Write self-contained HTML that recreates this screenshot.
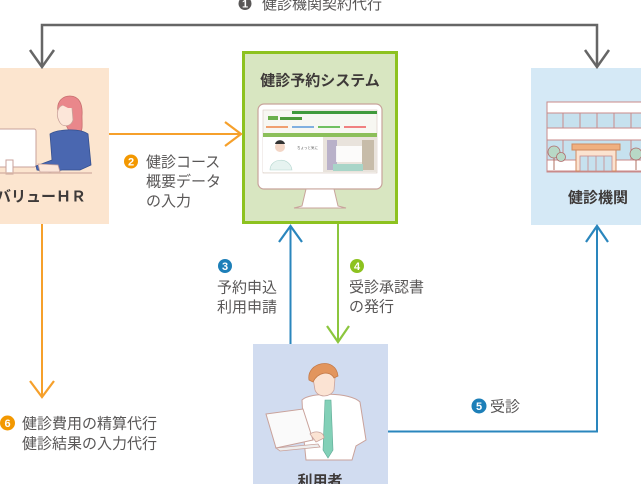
<!DOCTYPE html>
<html><head><meta charset="utf-8"><style>
html,body{margin:0;padding:0;background:#fff;}
svg{display:block;}
text{font-family:"Liberation Sans","Noto Sans CJK JP",sans-serif;}
.lbl{font-size:15px;fill:#595757;}
.bold{font-size:15px;font-weight:bold;fill:#3e3a39;}
.num{font-size:11px;font-weight:bold;fill:#fff;}
</style></head><body>
<svg width="641" height="484" viewBox="0 0 641 484" xmlns="http://www.w3.org/2000/svg">
<!-- boxes -->
<rect x="0" y="68" width="109" height="156" fill="#fce5cf"/>
<rect x="243.5" y="52.5" width="153" height="170" fill="#d8e6c1" stroke="#8dc21f" stroke-width="3"/>
<rect x="531" y="68" width="110" height="157" fill="#d5e9f6"/>
<rect x="253" y="344" width="135" height="140" fill="#d1dcf0"/>

<!-- gray connector -->
<polyline points="42,67 42,25 597,25 597,67" fill="none" stroke="#666" stroke-width="2.5"/>
<polyline points="30,50 42,67 54,50" fill="none" stroke="#666" stroke-width="2.5"/>
<polyline points="585,50 597,67 609,50" fill="none" stroke="#666" stroke-width="2.5"/>

<!-- orange connectors -->
<line x1="109" y1="134" x2="241" y2="134" stroke="#f6a02b" stroke-width="2"/>
<polyline points="225,122 241,134 225,146" fill="none" stroke="#f6a02b" stroke-width="2.2"/>
<line x1="42" y1="224" x2="42" y2="397" stroke="#f6a02b" stroke-width="2"/>
<polyline points="30,381 42,397 54,381" fill="none" stroke="#f6a02b" stroke-width="2.2"/>

<!-- blue up (3) -->
<line x1="290.5" y1="344" x2="290.5" y2="226" stroke="#2a86bd" stroke-width="2"/>
<polyline points="279,242 290.5,226 302,242" fill="none" stroke="#2a86bd" stroke-width="2.2"/>
<!-- green down (4) -->
<line x1="338" y1="224" x2="338" y2="342" stroke="#8cc63e" stroke-width="2"/>
<polyline points="327,326 338,342 349,326" fill="none" stroke="#8cc63e" stroke-width="2.2"/>
<!-- blue route (5) -->
<polyline points="388,431.5 597,431.5 597,226" fill="none" stroke="#2a86bd" stroke-width="2"/>
<polyline points="586,242 597,226 608,242" fill="none" stroke="#2a86bd" stroke-width="2.2"/>

<!-- labels -->
<circle cx="245" cy="3.5" r="6.5" fill="#595757"/>
<text class="num" x="245" y="7.5" text-anchor="middle">1</text>
<text class="lbl" x="262" y="9">健診機関契約代行</text>

<circle cx="131" cy="161.5" r="7" fill="#f39800"/>
<text class="num" x="131" y="165.5" text-anchor="middle">2</text>
<text class="lbl" x="146" y="167">健診コース</text>
<text class="lbl" x="146" y="186.5">概要データ</text>
<text class="lbl" x="146" y="206">の入力</text>

<circle cx="225" cy="266" r="7" fill="#1d7fb8"/>
<text class="num" x="225" y="270" text-anchor="middle">3</text>
<text class="lbl" x="217" y="292.5">予約申込</text>
<text class="lbl" x="217" y="312">利用申請</text>

<circle cx="357" cy="266" r="7" fill="#8dc21f"/>
<text class="num" x="357" y="270" text-anchor="middle">4</text>
<text class="lbl" x="349" y="292">受診承認書</text>
<text class="lbl" x="349" y="311.5">の発行</text>

<circle cx="479" cy="406" r="7.5" fill="#1d7fb8"/>
<text class="num" x="479" y="410" text-anchor="middle">5</text>
<text class="lbl" x="490" y="411.5">受診</text>

<circle cx="7.5" cy="423" r="7.5" fill="#f39800"/>
<text class="num" x="7.5" y="427" text-anchor="middle">6</text>
<text class="lbl" x="22" y="428.5">健診費用の精算代行</text>
<text class="lbl" x="22" y="448.5">健診結果の入力代行</text>

<!-- box titles -->
<text class="bold" x="86" y="201.5" text-anchor="end">バリューＨＲ</text>
<text class="bold" x="320" y="85.5" text-anchor="middle">健診予約システム</text>
<text class="bold" x="598" y="202.5" text-anchor="middle">健診機関</text>
<text class="bold" x="320" y="486" text-anchor="middle">利用者</text>

<!-- HR illustration -->
<rect x="-2" y="129" width="38" height="38" rx="2" fill="#fff" stroke="#c9a29b" stroke-width="1"/>
<rect x="6" y="160" width="7" height="14" fill="#fff" stroke="#c9a29b" stroke-width="1"/>
<path d="M58,112 C56,100 64,96 70,96 C79,96 83,104 82,116 C82,124 83,130 80,133 L70,133 L66,125 Z" fill="#e9878b" stroke="#c7706f" stroke-width="0.8"/>
<path d="M58,110 C60,104 68,103 72,108 L73,120 C71,127 62,128 59,121 C57,117 57,113 58,110 Z" fill="#fce6d9" stroke="#c9a29b" stroke-width="0.8"/>
<path d="M60,104 C64,99 74,99 76,108 L68,108 Z" fill="#e9878b"/>
<path d="M50,134 C58,129 80,128 88,134 L91,165 L80,170 L62,170 L50,172 L37,170 L36,166 L52,160 Z" fill="#4a67b0" stroke="#35508f" stroke-width="0.8"/>
<path d="M38,164 L58,165 L60,172 L40,172 Z" fill="#fce6d9" stroke="#c9a29b" stroke-width="0.8"/>
<line x1="0" y1="173" x2="92" y2="173" stroke="#d9b7a8" stroke-width="1.5"/>

<!-- system monitor -->
<rect x="258" y="104" width="124" height="85" rx="6" fill="#fff" stroke="#c8a39b" stroke-width="1.2"/>
<polygon points="306,189 334,189 338,206 346,208 294,208 302,206" fill="#fff" stroke="#c8a39b" stroke-width="1"/>
<rect x="263" y="110" width="114" height="63" fill="#f7f7f2" stroke="#d8c8c0" stroke-width="0.6"/>
<rect x="292" y="111" width="85" height="3" fill="#3f9a3c"/>
<rect x="268" y="116" width="10" height="4" fill="#6ab04c"/>
<rect x="280" y="117" width="22" height="3" fill="#4c9a3a"/>
<rect x="266" y="126" width="22" height="2" fill="#f0a070"/>
<rect x="292" y="126" width="22" height="2" fill="#80b0e0"/>
<rect x="318" y="126" width="22" height="2" fill="#70c060"/>
<rect x="344" y="126" width="22" height="2" fill="#f08080"/>
<rect x="263" y="133" width="114" height="4" fill="#8cbf5a"/>
<rect x="263" y="137" width="60" height="35" fill="#fff"/>
<circle cx="280" cy="147" r="5" fill="#f3d6c6"/>
<path d="M275,144 C276,139 284,139 285,144 Z" fill="#333"/>
<path d="M270,170 C270,158 290,156 292,170 Z" fill="#e6f3f0" stroke="#b5d7d0" stroke-width="0.6"/>
<text x="297" y="149" font-size="3.5" fill="#555">ちょっと気に</text>
<rect x="323" y="137" width="54" height="35" fill="#e9e3dc"/>
<rect x="327" y="140" width="10" height="30" fill="#b9b1c9"/>
<rect x="362" y="140" width="12" height="30" fill="#c7bca9"/>
<rect x="336" y="146" width="26" height="16" fill="#fff" opacity="0.85"/>
<rect x="333" y="164" width="30" height="7" fill="#a8d5c8"/>

<!-- building -->
<rect x="547" y="102" width="100" height="70" fill="#fff" stroke="#c98a8a" stroke-width="1"/>
<rect x="547" y="113" width="100" height="15" fill="#c6e1ee" stroke="#c98a8a" stroke-width="1"/>
<rect x="547" y="140" width="100" height="20" fill="#c6e1ee" stroke="#c98a8a" stroke-width="1"/>
<g stroke="#c98a8a" stroke-width="1">
<line x1="563" y1="113" x2="563" y2="128"/><line x1="580" y1="113" x2="580" y2="128"/>
<line x1="597" y1="113" x2="597" y2="128"/><line x1="614" y1="113" x2="614" y2="128"/>
<line x1="631" y1="113" x2="631" y2="128"/>
<line x1="563" y1="140" x2="563" y2="160"/><line x1="631" y1="140" x2="631" y2="160"/>
<line x1="547" y1="171" x2="641" y2="171"/>
</g>
<rect x="576" y="150" width="40" height="21" fill="#fbe3d0" stroke="#d08a60" stroke-width="1"/>
<rect x="580" y="156" width="32" height="15" fill="#c6e1ee" stroke="#c98a8a" stroke-width="0.8"/>
<g stroke="#c98a8a" stroke-width="0.8"><line x1="588" y1="156" x2="588" y2="171"/><line x1="596" y1="156" x2="596" y2="171"/><line x1="604" y1="156" x2="604" y2="171"/></g>
<rect x="572" y="144" width="48" height="6" fill="#f0b080" stroke="#d08a60" stroke-width="1"/>
<line x1="554" y1="156" x2="554" y2="170" stroke="#b07060" stroke-width="1"/>
<circle cx="554" cy="152" r="6" fill="#b8d8c6" stroke="#b06a6a" stroke-width="0.8"/>
<circle cx="561" cy="157" r="4.5" fill="#b8d8c6" stroke="#b06a6a" stroke-width="0.8"/>
<line x1="636" y1="158" x2="636" y2="170" stroke="#b07060" stroke-width="1"/>
<circle cx="636" cy="154" r="6" fill="#b8d8c6" stroke="#b06a6a" stroke-width="0.8"/>

<!-- user illustration -->
<path d="M302,400 C310,392 350,392 360,402 L366,440 L356,446 L352,460 L306,460 L304,440 Z" fill="#fff" stroke="#c9a29b" stroke-width="1"/>
<path d="M313,378 C313,368 334,366 335,378 L334,390 C330,398 318,398 315,390 Z" fill="#fbe3d3" stroke="#c9a29b" stroke-width="0.8"/>
<path d="M309,380 C306,362 336,356 338,376 L334,378 C330,370 318,372 313,382 Z" fill="#e2955d" stroke="#c47a48" stroke-width="0.8"/>
<polygon points="325,400 331,400 333,450 328,458 323,450" fill="#82d0b7" stroke="#5fa995" stroke-width="0.6"/>
<polygon points="266,414 303,409 313,440 276,448" fill="#fafafa" stroke="#c9a29b" stroke-width="1"/>
<path d="M276,448 L318,444 L320,447 L280,451 Z" fill="#eee" stroke="#c9a29b" stroke-width="0.8"/>
<path d="M310,434 C316,430 324,432 324,438 L316,442 Z" fill="#fbe3d3" stroke="#c9a29b" stroke-width="0.8"/>
</svg>
</body></html>
